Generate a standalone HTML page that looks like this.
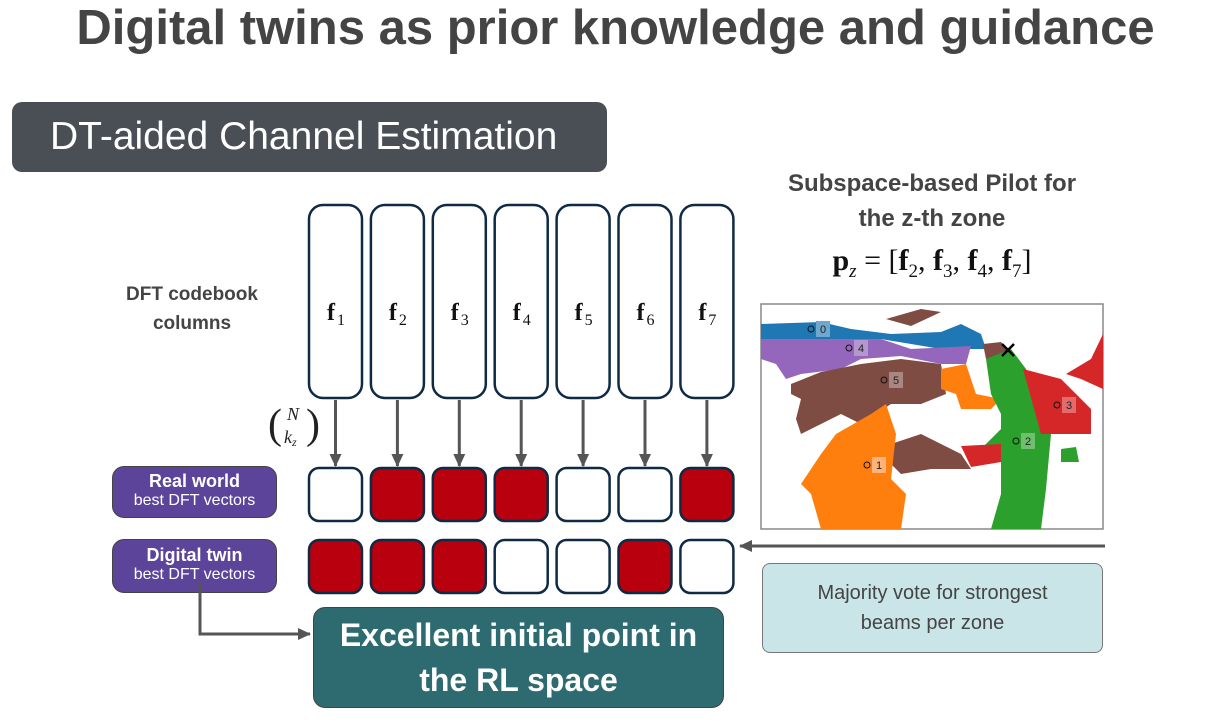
<!DOCTYPE html>
<html><head><meta charset="utf-8">
<style>
body{margin:0;width:1231px;height:723px;background:#fff;position:relative;overflow:hidden;font-family:"Liberation Sans",sans-serif}
.abs{position:absolute}
</style></head><body>
<div class="abs" style="left:0;width:1231px;top:0px;text-align:center;font-size:49px;font-weight:bold;color:#444">Digital twins as prior knowledge and guidance</div>
<div class="abs" style="left:12px;top:102px;width:595px;height:70px;background:#4a4f55;border-radius:10px;color:#fff;font-size:39px;line-height:70px;padding-left:38px;box-sizing:border-box">DT-aided Channel Estimation</div>
<div class="abs" style="left:112px;top:280px;width:160px;text-align:center;font-size:19px;font-weight:bold;color:#444;line-height:29px">DFT codebook<br>columns</div>
<div class="abs" style="left:752px;top:166px;width:360px;text-align:center;font-size:24px;font-weight:bold;color:#444;line-height:35px">Subspace-based Pilot for<br>the z-th zone</div>
<div class="abs" style="left:752px;top:244px;width:360px;text-align:center;font-size:30px;font-family:'Liberation Serif',serif;color:#111"><b>p</b><sub style="font-size:19px"><i>z</i></sub> = [<b>f</b><sub style="font-size:19px">2</sub>, <b>f</b><sub style="font-size:19px">3</sub>, <b>f</b><sub style="font-size:19px">4</sub>, <b>f</b><sub style="font-size:19px">7</sub>]</div>
<div class="abs" style="left:112px;top:466px;width:165px;height:52px;background:#5b4499;border:1.5px solid #444;border-radius:12px;box-sizing:border-box;color:#fff;text-align:center;padding-top:4px"><div style="font-weight:bold;font-size:18px">Real world</div><div style="font-size:16px">best DFT vectors</div></div>
<div class="abs" style="left:112px;top:539px;width:165px;height:54px;background:#5b4499;border:1.5px solid #444;border-radius:12px;box-sizing:border-box;color:#fff;text-align:center;padding-top:5px"><div style="font-weight:bold;font-size:18px">Digital twin</div><div style="font-size:16px">best DFT vectors</div></div>
<div class="abs" style="left:762px;top:563px;width:341px;height:90px;background:#c9e5e8;border:1.5px solid #777;border-radius:8px;box-sizing:border-box;text-align:center;font-size:20px;color:#444;line-height:30px;padding-top:14px">Majority vote for strongest<br>beams per zone</div>
<div class="abs" style="left:313px;top:607px;width:411px;height:101px;background:#2e6b70;border:1.5px solid #444;border-radius:12px;box-sizing:border-box;text-align:center;font-size:32px;font-weight:bold;color:#fff;line-height:45px;padding-top:5px">Excellent initial point in<br>the RL space</div>
<svg id="main" class="abs" style="left:0;top:0" width="1231" height="723">
<defs><marker id="ah" markerUnits="userSpaceOnUse" markerWidth="14" markerHeight="14" refX="12" refY="7" orient="auto"><path d="M0,1 L13,7 L0,13 z" fill="#555"/></marker></defs>
<text x="268" y="438" font-family="Liberation Serif" font-size="42" fill="#222">(</text>
<text x="287" y="420" font-family="Liberation Serif" font-style="italic" font-size="18" fill="#222">N</text>
<text x="284" y="443" font-family="Liberation Serif" font-style="italic" font-size="18" fill="#222">k<tspan font-size="12" dy="3">z</tspan></text>
<text x="306" y="438" font-family="Liberation Serif" font-size="42" fill="#222">)</text>
<polyline points="200,582 200,634 310,634" fill="none" stroke="#555" stroke-width="3" marker-end="url(#ah)"/>
<line x1="1105" y1="546" x2="740" y2="546" stroke="#555" stroke-width="3" marker-end="url(#ah)"/>
<g id="cols"></g>
<g transform="translate(761,304)">
<rect x="0" y="0" width="342" height="225" fill="#fff" stroke="#888" stroke-width="1.5"/>
<path d="M0,20 L60,18 L90,25 L130,30 L180,28 L200,20 L220,30 L225,45 L180,45 L150,40 L120,35 L0,35Z" fill="#1f77b4"/>
<path d="M0,35 L120,35 L150,45 L210,42 L205,60 L180,60 L140,52 L100,55 L80,65 L40,70 L25,75 L15,60 L0,55Z" fill="#9467bd"/>
<path d="M125,15 L160,5 L180,8 L150,22Z M30,80 L60,68 L100,60 L140,55 L180,60 L185,90 L160,100 L130,100 L100,120 L80,110 L60,120 L40,130 L35,115 L40,95 L30,90Z M130,140 L160,130 L200,150 L210,165 L170,165 L140,170 L130,160Z M222,40 L240,38 L250,50 L225,55Z" fill="#7f4c44"/>
<path d="M180,65 L205,60 L215,90 L240,95 L230,105 L200,105 L195,90 L180,85Z M75,130 L110,110 L125,100 L135,130 L130,175 L145,190 L140,225 L60,225 L50,190 L40,180 L60,150Z" fill="#ff7f0e"/>
<path d="M225,55 L250,45 L265,65 L290,130 L285,185 L280,225 L230,225 L240,190 L240,145 L215,150 L240,125 L240,110 L230,90Z M300,145 L315,143 L318,158 L300,158Z" fill="#2ca02c"/>
<path d="M262,65 L300,75 L330,105 L330,130 L280,130 Z M200,142 L240,140 L240,158 L210,163 Z M305,70 L330,55 L342,30 L342,85 L320,75Z" fill="#d62728"/>
<g font-family="Liberation Sans" font-size="11" fill="#222">
<circle cx="50" cy="25" r="3" fill="none" stroke="#111"/><rect x="55" y="17" width="14" height="16" fill="#6fa7cf"/><text x="59" y="29">0</text>
<circle cx="88" cy="44" r="3" fill="none" stroke="#111"/><rect x="93" y="36" width="14" height="16" fill="#b497cf"/><text x="97" y="48">4</text>
<circle cx="123" cy="76" r="3" fill="none" stroke="#111"/><rect x="128" y="68" width="14" height="16" fill="#a98680"/><text x="132" y="80">5</text>
<circle cx="106" cy="161" r="3" fill="none" stroke="#111"/><rect x="111" y="153" width="14" height="16" fill="#ffb27a"/><text x="115" y="165">1</text>
<circle cx="255" cy="137" r="3" fill="none" stroke="#111"/><rect x="260" y="129" width="14" height="16" fill="#6fbf6f"/><text x="264" y="141">2</text>
<circle cx="296" cy="101" r="3" fill="none" stroke="#111"/><rect x="301" y="93" width="14" height="16" fill="#e46a6b"/><text x="305" y="105">3</text>
</g>
<path d="M241,40 L253,52 M253,40 L241,52" stroke="#000" stroke-width="2.5"/>
</g>
</svg>
<script>
const columns=["1","2","3","4","5","6","7"];
const realWorld=[0,1,1,1,0,0,1];
const digitalTwin=[1,1,1,0,0,1,0];
const g=document.getElementById('cols');
const NS='http://www.w3.org/2000/svg';
function colX(i){return 309+i*61.9;}
function mk(t,a){const e=document.createElementNS(NS,t);for(const k in a)e.setAttribute(k,a[k]);g.appendChild(e);return e;}
columns.forEach((c,i)=>{
 const x=colX(i);
 const b=mk('rect',{x:x,y:205,width:53,height:193,rx:14,fill:'#fff',stroke:'#0f2a45','stroke-width':2.5});
 
 
 const t=mk('text',{x:x+22,y:320,'font-family':'Liberation Serif','font-size':24,'font-weight':'bold',fill:'#111','text-anchor':'middle'});
 t.textContent='f';
 const s=mk('text',{x:x+32,y:325,'font-family':'Liberation Serif','font-size':16,fill:'#111','text-anchor':'middle'});
 s.textContent=c;
 const a=mk('line',{x1:x+26.5,y1:400,x2:x+26.5,y2:466,stroke:'#555','stroke-width':3,'marker-end':'url(#ah)'});
 
 
 const r=mk('rect',{x:x,y:468,width:53,height:53,rx:10,fill:realWorld[i]?'#b8000f':'#fff',stroke:'#0f2a45','stroke-width':2.5});
 
 
 const d=mk('rect',{x:x,y:540,width:53,height:53,rx:10,fill:digitalTwin[i]?'#b8000f':'#fff',stroke:'#0f2a45','stroke-width':2.5});
 
 
});
</script>
</body></html>
